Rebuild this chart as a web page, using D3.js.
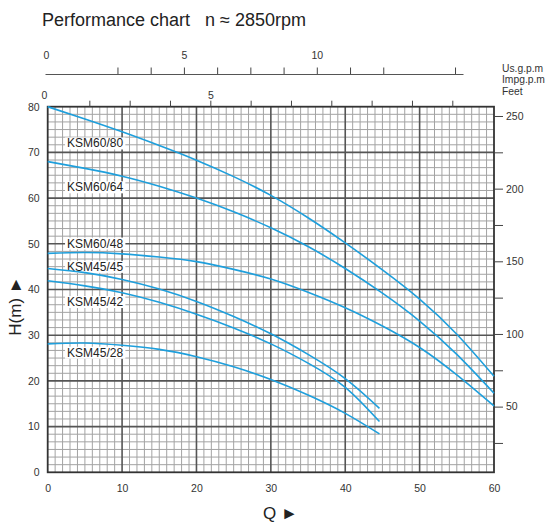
<!DOCTYPE html>
<html>
<head>
<meta charset="utf-8">
<script src="https://cdn.jsdelivr.net/npm/d3@7"></script>
<style>
  body { margin: 0; background: #fff; }
  svg { display: block; font-family: "Liberation Sans", Arial, sans-serif; }
</style>
</head>
<body>
<svg id="chart" width="547" height="529"></svg>
<script>
// flow points (m3/h)
const flowLong = [0, 5, 10, 15, 20, 25, 30, 35, 40, 45, 50, 55, 60];
const flowShort = [0, 5, 10, 15, 20, 25, 30, 35, 40, 44.6];

// head (m) per pump model
const headKSM6080 = [80, 77.3, 74.5, 71.5, 68.3, 64.7, 60.6, 55.7, 50.2, 44.3, 37.9, 30.2, 21];
const headKSM6064 = [68, 66.5, 64.8, 62.6, 60, 57, 53.5, 49.4, 44.6, 39.2, 33.1, 25.8, 17.3];
const headKSM6048 = [47.9, 48.1, 47.8, 47.1, 46.1, 44.4, 42.3, 39.4, 36, 32, 27.3, 21.3, 14.5];
const headKSM4545 = [44.6, 43.7, 42.2, 40.1, 37.4, 34.1, 30.3, 25.8, 20.5, 14.0];
const headKSM4542 = [41.9, 40.8, 39.3, 37.2, 34.6, 31.6, 28.1, 23.9, 18.6, 11.1];
const headKSM4528 = [28.1, 28.3, 27.8, 26.9, 25.3, 23.1, 20.3, 16.9, 12.9, 8.4];

const pumpNames = ["KSM60/80", "KSM60/64", "KSM60/48", "KSM45/45", "KSM45/42", "KSM45/28"];
const labelHead = [72, 62.4, 50.1, 45, 37.3, 26.2];

// tick labels
const qTicks = [0, 10, 20, 30, 40, 50, 60];
const hTicks = [0, 10, 20, 30, 40, 50, 60, 70, 80];
const feetTicks = [25, 50, 75, 100, 125, 150, 175, 200, 225, 250];
const impTicks = [0, 1.25, 2.5, 3.75, 5, 6.25, 7.5, 8.75, 10, 11.25, 12.5];
const usTicks = [0, 2.5, 3.75, 5, 6.25, 7.5, 8.75, 10, 11.25, 12.5, 15.2];
const unitNames = ["Us.g.p.m", "Impg.p.m", "Feet"];

const series = [
  { name: pumpNames[0], q: flowLong, h: headKSM6080 },
  { name: pumpNames[1], q: flowLong, h: headKSM6064 },
  { name: pumpNames[2], q: flowLong, h: headKSM6048 },
  { name: pumpNames[3], q: flowShort, h: headKSM4545 },
  { name: pumpNames[4], q: flowShort, h: headKSM4542 },
  { name: pumpNames[5], q: flowShort, h: headKSM4528 }
].map((s, i) => ({ name: s.name, labelH: labelHead[i], points: s.q.map((q, j) => ({ q: q, h: s.h[j] })) }));

const svg = d3.select("#chart");
const plotLeft = 47.7, plotRight = 494, plotTop = 106.7, plotBottom = 472.3;

const x = d3.scaleLinear().domain([0, 60]).range([plotLeft, plotRight]);
const y = d3.scaleLinear().domain([0, 80]).range([plotBottom, plotTop]);
const feet = d3.scaleLinear().domain([4.8, 256.4]).range([plotBottom, plotTop]);
const imp = d3.scaleLinear().domain([0, 12.5]).range([49, 452.3]);
const us = d3.scaleLinear().domain([-0.226, 15.5]).range([45, 463]);

// title
svg.append("text")
  .attr("x", 42).attr("y", 26)
  .attr("font-size", 18)
  .attr("fill", "#222")
  .style("white-space", "pre")
  .text("Performance chart   n \u2248 2850rpm");

// grid
const grid = svg.append("g");
grid.selectAll(".vminor")
  .data(d3.range(0, 61, 1).filter(d => d % 10 !== 0))
  .enter().append("line")
  .attr("x1", d => x(d)).attr("x2", d => x(d))
  .attr("y1", plotTop).attr("y2", plotBottom)
  .attr("stroke", "#a3a3a3").attr("stroke-width", 1);
grid.selectAll(".hminor")
  .data(d3.range(1, 48).filter(d => d % 6 !== 0).map(d => d * 10 / 6))
  .enter().append("line")
  .attr("x1", plotLeft).attr("x2", plotRight)
  .attr("y1", d => y(d)).attr("y2", d => y(d))
  .attr("stroke", "#a3a3a3").attr("stroke-width", 1);
grid.selectAll(".vmajor")
  .data(qTicks.slice(1, -1))
  .enter().append("line")
  .attr("x1", d => x(d)).attr("x2", d => x(d))
  .attr("y1", plotTop).attr("y2", plotBottom)
  .attr("stroke", "#555").attr("stroke-width", 1.6);
grid.selectAll(".hmajor")
  .data(hTicks.slice(1, -1))
  .enter().append("line")
  .attr("x1", plotLeft).attr("x2", plotRight)
  .attr("y1", d => y(d)).attr("y2", d => y(d))
  .attr("stroke", "#555").attr("stroke-width", 1.6);
grid.append("rect")
  .attr("x", plotLeft).attr("y", plotTop)
  .attr("width", plotRight - plotLeft).attr("height", plotBottom - plotTop)
  .attr("fill", "none").attr("stroke", "#333").attr("stroke-width", 1.8);

// bottom and left axes
const xAxis = svg.append("g")
  .attr("transform", `translate(0,${plotBottom})`)
  .call(d3.axisBottom(x).tickValues(qTicks).tickSize(0).tickPadding(12));
const yAxis = svg.append("g")
  .attr("transform", `translate(${plotLeft},0)`)
  .call(d3.axisLeft(y).tickValues(hTicks).tickSize(0).tickPadding(8));
[xAxis, yAxis].forEach(a => a.select(".domain").remove());

// right axis in feet
const fAxis = svg.append("g")
  .attr("transform", `translate(${plotRight},0)`)
  .call(d3.axisRight(feet).tickValues(feetTicks).tickSize(9).tickPadding(3)
    .tickFormat(d => d % 50 === 0 ? d : ""));
fAxis.select(".domain").remove();

// top axes: Impg.p.m on the plot border, Us.g.p.m above it
const iAxis = svg.append("g")
  .attr("transform", `translate(0,${plotTop})`)
  .call(d3.axisTop(imp).tickValues(impTicks).tickSize(6).tickPadding(2)
    .tickFormat(d => (d === 0 || d === 5) ? d : ""));
iAxis.select(".domain").remove();

const uAxis = svg.append("g")
  .attr("transform", "translate(0,74)")
  .call(d3.axisTop(us).tickValues(usTicks).tickSize(6.5).tickSizeOuter(0).tickPadding(8.5)
    .tickFormat(d => (d === 0 || d === 5 || d === 10) ? d : ""));

[xAxis, yAxis, fAxis, iAxis, uAxis].forEach(a => {
  a.attr("font-size", 10.5).attr("font-family", null);
  a.selectAll("text").attr("fill", "#333");
  a.selectAll("line").attr("stroke", "#444");
});
uAxis.select(".domain").attr("stroke", "#555");
[iAxis, uAxis].forEach(a => {
  a.selectAll(".tick").filter(d => d === 0).select("line").remove();
  a.selectAll(".tick").filter(d => d === 0).select("text").attr("dx", -5);
});

// unit names
svg.selectAll(".unit")
  .data(unitNames)
  .enter().append("text")
  .attr("x", 502)
  .attr("y", (d, i) => 72 + i * 11.3)
  .attr("font-size", 10.3)
  .attr("fill", "#333")
  .text(d => d);

// curve labels with white knock-out
const labels = svg.append("g");
series.forEach(s => {
  const t = labels.append("text")
    .attr("x", x(2.6)).attr("y", y(s.labelH))
    .attr("dy", "0.35em")
    .attr("font-size", 12)
    .attr("fill", "#222")
    .text(s.name);
  const b = t.node().getBBox();
  labels.insert("rect", "text")
    .attr("x", b.x - 2).attr("y", b.y + 1)
    .attr("width", b.width + 4).attr("height", b.height - 2)
    .attr("fill", "#fff");
});

// curves
const line = d3.line()
  .x(d => x(d.q))
  .y(d => y(d.h))
  .curve(d3.curveNatural);
svg.selectAll(".curve")
  .data(series)
  .enter().append("path")
  .attr("class", "curve")
  .attr("d", d => line(d.points))
  .attr("fill", "none")
  .attr("stroke", "#1e9fdc")
  .attr("stroke-width", 1.6);

// axis titles
svg.append("text")
  .attr("transform", "translate(21,306) rotate(-90)")
  .attr("text-anchor", "middle")
  .attr("font-size", 17)
  .attr("fill", "#222")
  .text("H(m) \u25BA");
svg.append("text")
  .attr("x", 263).attr("y", 519)
  .attr("font-size", 17)
  .attr("fill", "#222")
  .text("Q \u25BA");
</script>
</body>
</html>
